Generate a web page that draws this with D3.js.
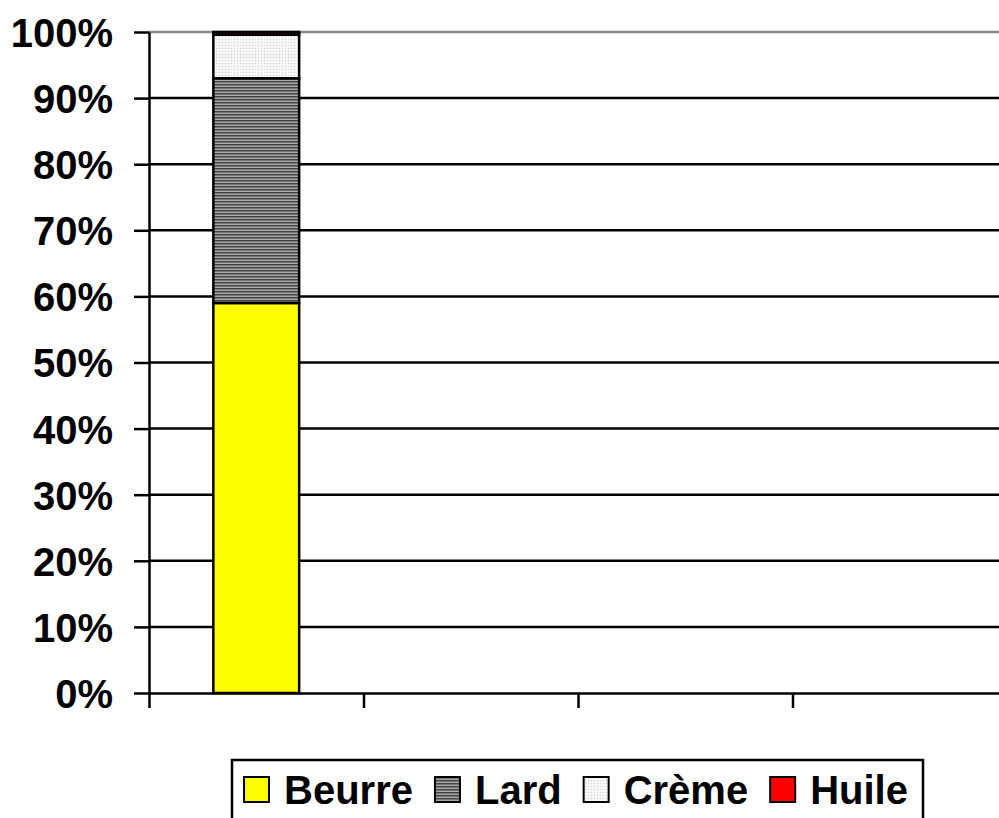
<!DOCTYPE html>
<html>
<head>
<meta charset="utf-8">
<title></title>
<script src="https://d3js.org/d3.v7.min.js"></script>
<style>
body { margin: 0; background: #fff; overflow: hidden; }
svg { display: block; }
text { font-family: "Liberation Sans", Arial, sans-serif; font-weight: bold; }
</style>
</head>
<body>
<div id="chart"></div>
<script type="text/javascript">
// data
var categories = ["1", "2", "3", "4"];
var seriesNames = ["Beurre", "Lard", "Crème", "Huile"];
var beurre = [59, 0, 0, 0];
var lard = [34, 0, 0, 0];
var creme = [6.6, 0, 0, 0];
var huile = [0.4, 0, 0, 0];
var yTicks = [0, 10, 20, 30, 40, 50, 60, 70, 80, 90, 100];

var rows = categories.map(function(c, i) {
  return {cat: c, "Beurre": beurre[i], "Lard": lard[i], "Crème": creme[i], "Huile": huile[i]};
});

var width = 999, height = 818;
var margin = {top: 32, left: 149, bottom: 125};
var plotRight = 1007;

var svg = d3.select("#chart").append("svg")
  .attr("width", width)
  .attr("height", height);

var defs = svg.append("defs");
// horizontal lines pattern for Lard
var p1 = defs.append("pattern").attr("id", "pLard")
  .attr("patternUnits", "userSpaceOnUse").attr("width", 4).attr("height", 3);
p1.append("rect").attr("width", 4).attr("height", 3).attr("fill", "#a8a8a8");
p1.append("rect").attr("width", 4).attr("height", 1.5).attr("fill", "#444");
// fine dots for Crème
var p2 = defs.append("pattern").attr("id", "pCreme")
  .attr("patternUnits", "userSpaceOnUse").attr("width", 3).attr("height", 3);
p2.append("rect").attr("width", 3).attr("height", 3).attr("fill", "#f6f6f6");
p2.append("rect").attr("width", 1).attr("height", 1).attr("fill", "#cfcfcf");

var color = d3.scaleOrdinal()
  .domain(seriesNames)
  .range(["#ffff00", "url(#pLard)", "url(#pCreme)", "#ff0000"]);

var x = d3.scaleBand()
  .domain(categories)
  .range([margin.left, plotRight]);

var xEdge = d3.scaleLinear()
  .domain([0, categories.length])
  .range([margin.left, plotRight]);

var y = d3.scaleLinear()
  .domain([0, 100])
  .range([height - margin.bottom, margin.top]);

// gridlines
svg.append("g")
  .selectAll("line")
  .data(yTicks.filter(function(d) { return d > 0; }))
  .enter().append("line")
    .attr("x1", margin.left).attr("x2", plotRight)
    .attr("y1", function(d) { return y(d); })
    .attr("y2", function(d) { return y(d); })
    .attr("stroke", function(d) { return d === 100 ? "#888" : "#000"; })
    .attr("stroke-width", 2.5);

// stacked bars
var stacked = d3.stack().keys(seriesNames)(rows);
var barW = x.bandwidth() * 0.4;

svg.append("g")
  .selectAll("g")
  .data(stacked)
  .enter().append("g")
    .attr("fill", function(d) { return color(d.key); })
    .selectAll("rect")
    .data(function(d) { return d.filter(function(v) { return v[1] - v[0] > 0; }); })
    .enter().append("rect")
      .attr("x", function(d) { return x(d.data.cat) + (x.bandwidth() - barW) / 2; })
      .attr("y", function(d) { return y(d[1]); })
      .attr("height", function(d) { return y(d[0]) - y(d[1]); })
      .attr("width", barW)
      .attr("stroke", "#000")
      .attr("stroke-width", 2.5);

// y axis
var yAxis = svg.append("g")
  .attr("transform", "translate(" + margin.left + ",0)")
  .call(d3.axisLeft(y).tickValues(yTicks)
    .tickFormat(function(d) { return d + "%"; })
    .tickSize(15).tickPadding(21).tickSizeOuter(0));
yAxis.select(".domain").attr("stroke", "#000").attr("stroke-width", 2.5);
yAxis.selectAll(".tick line").attr("stroke", "#000").attr("stroke-width", 2.5);
yAxis.selectAll(".tick text")
  .attr("font-size", 40)
  .attr("font-family", "Liberation Sans, Arial, sans-serif")
  .attr("font-weight", "bold")
  .attr("fill", "#000")
  .attr("dy", "0.36em");

// x axis
var xAxis = svg.append("g")
  .attr("transform", "translate(0," + y(0) + ")")
  .call(d3.axisBottom(xEdge).tickValues(d3.range(categories.length + 1))
    .tickFormat("").tickSize(15).tickSizeOuter(0));
xAxis.select(".domain").attr("stroke", "#000").attr("stroke-width", 2.5);
xAxis.selectAll(".tick line").attr("stroke", "#000").attr("stroke-width", 2.5);

// legend
var legend = svg.append("g");
legend.append("rect")
  .attr("x", 232).attr("y", 760)
  .attr("width", 691).attr("height", 80)
  .attr("fill", "#fff").attr("stroke", "#000").attr("stroke-width", 2.5);

var lx = 244;
seriesNames.forEach(function(name) {
  legend.append("rect")
    .attr("x", lx).attr("y", 777)
    .attr("width", 25).attr("height", 25)
    .attr("fill", color(name))
    .attr("stroke", "#000").attr("stroke-width", 2);
  var t = legend.append("text")
    .attr("x", lx + 40).attr("y", 804)
    .attr("font-size", 40)
    .attr("fill", "#000")
    .text(name);
  lx = lx + 40 + t.node().getComputedTextLength() + 22;
});
</script>
</body>
</html>
